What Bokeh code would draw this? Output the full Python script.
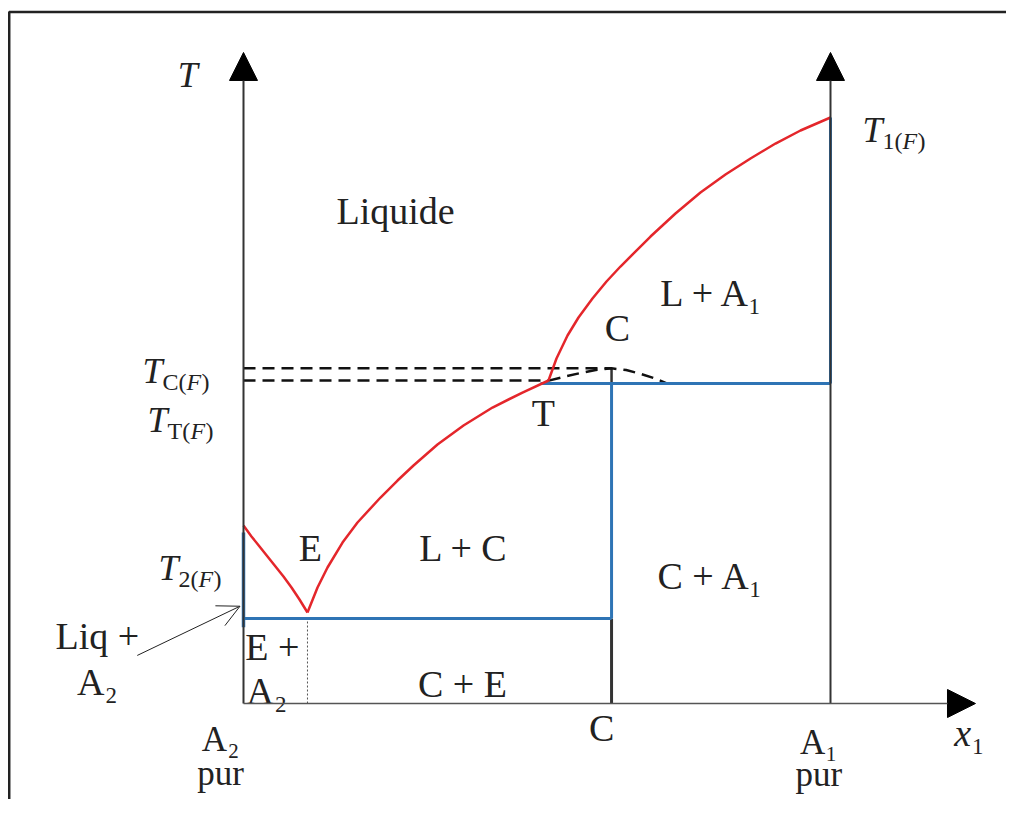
from bokeh.plotting import figure
from bokeh.models import Arrow, NormalHead, OpenHead, Range1d
from bokeh.core.properties import value
from bokeh.embed import file_html
from bokeh.resources import INLINE

# ---- data: composition x1 (A2 pur = 0, A1 pur = 1), reduced temperature ----
x_A2 = 0.0
x_A1 = 1.0
x_E = 0.109          # eutectic composition
x_C = 0.627          # compound C
x_T = 0.506          # start of peritectic plateau
T_1 = 1.0            # T1(F)
T_2 = 0.292          # T2(F) (top of blue segment)
T_E = 0.145          # eutectic temperature
T_T = 0.546          # peritectic plateau
T_TT = 0.551         # dashed T_T(F) level
T_C = 0.572          # congruent (metastable) melting T_C(F)

# liquidus curves (red)
liqA2_x = [0.0, 0.0136, 0.0273, 0.0409, 0.0545, 0.0681, 0.0818, 0.0954, 0.109]
liqA2_T = [0.3038, 0.2850, 0.2679, 0.2509, 0.2338, 0.2167, 0.1980, 0.1775, 0.1553]
liqC_x = [0.109, 0.1261, 0.1431, 0.1687, 0.1942, 0.2334, 0.2624, 0.2896, 0.3305,
          0.3748, 0.4242, 0.4753, 0.5196]
liqC_T = [0.1553, 0.1980, 0.2321, 0.2747, 0.3089, 0.3515, 0.3805, 0.4061, 0.4420,
          0.4744, 0.5051, 0.5307, 0.5512]
liqA1_x = [0.5196, 0.5332, 0.5520, 0.5707, 0.5945, 0.6184, 0.6422, 0.6934, 0.7359,
           0.7785, 0.8211, 0.8637, 0.9063, 0.9489, 1.0]
liqA1_T = [0.5512, 0.5887, 0.6280, 0.6587, 0.6911, 0.7201, 0.7457, 0.7969, 0.8362,
           0.8720, 0.9027, 0.9300, 0.9556, 0.9778, 1.0]
# metastable liquidus through C (dashed)
meta_x = [0.520, 0.548, 0.574, 0.600, 0.627, 0.652, 0.675, 0.700, 0.722]
meta_T = [0.551, 0.558, 0.564, 0.569, 0.572, 0.569, 0.563, 0.555, 0.546]

# axis extents
T_axis_top = 1.111
x_axis_end = 1.247

RED = "#e4262b"
BLUE = "#2e74b5"
DARK = "#333333"
TXT = "#222222"
FONT = "Liberation Serif"

p = figure(width=1006, height=799,
           x_range=Range1d(-0.41397, 1.29983), y_range=Range1d(-0.16382, 1.19966),
           toolbar_location=None, output_backend="svg", min_border=0,
           x_axis_location=None, y_axis_location=None)
p.grid.visible = False
p.outline_line_color = None
p.background_fill_color = "white"
p.border_fill_color = "white"

# outer frame (left and top edges visible; the rest lies outside the picture)
p.line([-0.3991, -0.3991, 2.0], [-1.0, 1.1800, 1.1800], line_color="#222222", line_width=2.5)

# axes with arrows
head = dict(size=28, fill_color="black", line_color="black")
p.add_layout(Arrow(end=NormalHead(**head), x_start=x_A2, y_start=0, x_end=x_A2, y_end=T_axis_top,
                   line_color=DARK, line_width=2))
p.add_layout(Arrow(end=NormalHead(**head), x_start=x_A1, y_start=0, x_end=x_A1, y_end=T_axis_top,
                   line_color=DARK, line_width=2))
p.add_layout(Arrow(end=NormalHead(**head), x_start=x_A2, y_start=0, x_end=x_axis_end, y_end=0,
                   line_color="#555555", line_width=1.5))

# compound C vertical (black part)
p.line([x_C, x_C], [0, T_E], line_color=DARK, line_width=3)
p.line([x_C, x_C], [T_T, T_C], line_color=DARK, line_width=2.5)
# eutectic composition (dotted)
p.line([x_E, x_E], [0, T_E], line_color="#555555", line_width=1, line_dash="2 2")

# dashed horizontal levels and metastable curve
p.line([x_A2, x_C], [T_C, T_C], line_color="#111111", line_width=2.5, line_dash="12 7")
p.line([x_A2, x_T + 0.014], [T_TT, T_TT], line_color="#111111", line_width=2.5, line_dash="12 7")
p.line(meta_x, meta_T, line_color="#111111", line_width=2.5, line_dash="12 7")

# blue solid lines
p.line([x_A2, x_A2], [0.130, T_2], line_color=BLUE, line_width=3.5)
p.line([x_A2, x_C], [T_E, T_E], line_color=BLUE, line_width=3)
p.line([x_C, x_C], [T_E, T_T], line_color=BLUE, line_width=3)
p.line([x_T, x_A1], [T_T, T_T], line_color=BLUE, line_width=3)
p.line([x_A1, x_A1], [T_T, T_1], line_color=BLUE, line_width=3)

# red liquidus curves
p.line(liqA2_x, liqA2_T, line_color=RED, line_width=2.5)
p.line(liqC_x, liqC_T, line_color=RED, line_width=2.5)
p.line(liqA1_x, liqA1_T, line_color=RED, line_width=2.5)

# pointer arrow for "Liq + A2"
p.add_layout(Arrow(end=OpenHead(size=22, line_width=1, line_color="#222222"),
                   x_start=-0.181, y_start=0.082, x_end=-0.006, y_end=0.166,
                   line_color="#222222", line_width=1))

# ---- labels ----
centered = [
    ("Liquide", 0.259, 0.841),
    ("L + A₁", 0.799, 0.701),
    ("C", 0.637, 0.640),
    ("T", 0.511, 0.495),
    ("E", 0.114, 0.265),
    ("L + C", 0.375, 0.265),
    ("C + A₁", 0.796, 0.218),
    ("C + E", 0.373, 0.034),
    ("Liq +", -0.249, 0.116),
    ("A₂", -0.249, 0.036),
    ("C", 0.610, -0.041),
]
p.text(x=[c[1] for c in centered], y=[c[2] for c in centered], text=[c[0] for c in centered],
       text_font=value(FONT), text_font_size="38px", text_color=TXT,
       text_align="center", text_baseline="middle")

bottom = [
    ("A₂", -0.039, -0.062),
    ("pur", -0.039, -0.120),
    ("A₁", 0.980, -0.066),
    ("pur", 0.980, -0.122),
]
p.text(x=[c[1] for c in bottom], y=[c[2] for c in bottom], text=[c[0] for c in bottom],
       text_font=value(FONT), text_font_size="35px", text_color=TXT,
       text_align="center", text_baseline="middle")

left_lab = [("E +", 0.003, 0.096), ("A₂", 0.005, 0.022)]
p.text(x=[c[1] for c in left_lab], y=[c[2] for c in left_lab], text=[c[0] for c in left_lab],
       text_font=value(FONT), text_font_size="38px", text_color=TXT,
       text_align="left", text_baseline="middle")

# axis names
p.text(x=[-0.095], y=[1.072], text=["T"], text_font=value(FONT), text_font_size="36px",
       text_font_style="italic", text_color=TXT, text_align="center", text_baseline="middle")
p.text(x=[1.225], y=[-0.051], text=["x"], text_font=value(FONT), text_font_size="38px",
       text_font_style="italic", text_color=TXT, text_align="center", text_baseline="middle")
p.text(x=[1.225], y=[-0.051], text=["₁"], x_offset=9, text_font=value(FONT),
       text_font_size="38px", text_color=TXT, text_align="left", text_baseline="middle")


# temperature labels T_{..(F)}
def temp_label(x, y, sub):
    p.text(x=[x], y=[y], text=["T"], text_font=value(FONT), text_font_size="36px",
           text_font_style="italic", text_color=TXT, text_align="left", text_baseline="middle")
    p.text(x=[x], y=[y], text=[sub + "("], x_offset=20, y_offset=11,
           text_font=value(FONT), text_font_size="24px", text_color=TXT,
           text_align="left", text_baseline="middle")
    w = {"C": 24, "T": 23, "1": 20, "2": 20}[sub]
    p.text(x=[x], y=[y], text=["F"], x_offset=20 + w, y_offset=11,
           text_font=value(FONT), text_font_size="24px", text_font_style="italic",
           text_color=TXT, text_align="left", text_baseline="middle")
    p.text(x=[x], y=[y], text=[")"], x_offset=20 + w + 15, y_offset=11,
           text_font=value(FONT), text_font_size="24px", text_color=TXT,
           text_align="left", text_baseline="middle")


temp_label(-0.172, 0.568, "C")
temp_label(-0.1635, 0.483, "T")
temp_label(1.0545, 0.9795, "1")
temp_label(-0.145, 0.232, "2")

open("out.html", "w").write(file_html(p, INLINE))
